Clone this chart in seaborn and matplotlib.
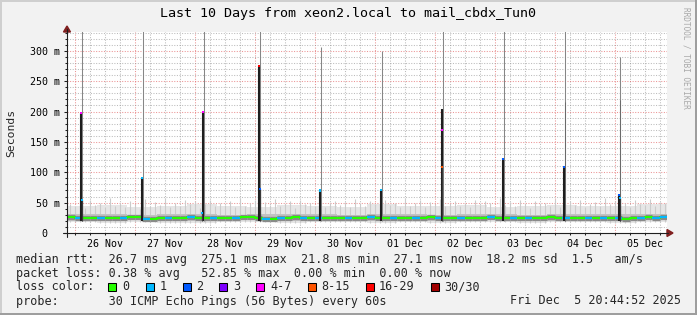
import matplotlib
matplotlib.use("Agg")
import matplotlib.pyplot as plt
import matplotlib.dates as mdates
from matplotlib.patches import Rectangle, Polygon
from matplotlib.lines import Line2D
import seaborn as sns
import pandas as pd
import numpy as np

# ---------------- data ----------------
start = "2025-11-25 20:44:52"
end = "2025-12-05 20:44:52"
title = "Last 10 Days from xeon2.local to mail_cbdx_Tun0"

# median rtt (ms), one value per 3 hours
median_ms = [
    25.8, 25.2, 24.6, 24.9, 25.3, 25.0, 24.7, 25.4,
    26.0, 25.6, 23.2, 23.8, 24.5, 25.1, 24.8, 25.3,
    25.9, 25.5, 24.4, 24.9, 25.2, 24.6, 25.0, 25.6,
    26.1, 24.8, 22.8, 23.4, 24.2, 24.9, 25.6, 25.1,
    24.7, 25.5, 24.6, 25.0, 25.4, 24.8, 24.5, 25.2,
    25.7, 25.1, 24.3, 24.8, 25.3, 25.0, 24.6, 25.5,
    26.2, 25.4, 23.9, 24.6, 25.1, 24.7, 25.3, 25.0,
    25.6, 25.2, 24.5, 24.1, 25.0, 25.5, 24.9, 25.2,
    25.8, 25.0, 24.2, 24.8, 25.4, 25.1, 24.7, 25.3,
    25.5, 24.6, 23.5, 24.4, 25.0, 25.6, 25.2, 25.8]
# lost pings (of 30), one value per 3 hours
loss_cnt = [
    0, 1, 0, 0, 1, 0, 0, 1,
    0, 0, 1, 0, 0, 1, 0, 0,
    1, 0, 0, 1, 0, 0, 1, 0,
    0, 0, 1, 0, 1, 0, 0, 1,
    0, 1, 0, 0, 0, 1, 0, 0,
    1, 0, 0, 1, 0, 0, 1, 0,
    0, 1, 0, 0, 1, 0, 0, 0,
    1, 0, 0, 1, 0, 1, 0, 0,
    0, 0, 1, 0, 0, 1, 0, 1,
    0, 1, 0, 0, 1, 0, 1, 1]
# highest ping (ms), one value per 2 hours
streak_ms = [
    48, 44, 52, 41, 55, 46, 50, 43, 57, 45, 49, 42,
    53, 47, 40, 56, 44, 51, 46, 58, 43, 49, 45, 54,
    47, 52, 41, 48, 55, 44, 50, 46, 53, 42, 57, 45,
    49, 54, 43, 51, 46, 56, 44, 48, 52, 41, 55, 47,
    50, 45, 58, 43, 49, 53, 46, 51, 42, 56, 47, 44,
    52, 48, 41, 55, 46, 50, 43, 57, 45, 49, 54, 42,
    51, 47, 56, 44, 48, 53, 45, 50, 42, 55, 46, 52,
    49, 43, 57, 46, 51, 44, 54, 48, 41, 53, 47, 50,
    45, 56, 43, 49, 52, 46, 55, 42, 48, 51, 44, 57,
    47, 53, 45, 50, 43, 54, 48, 46, 56, 44, 51, 49]
# smoke percentiles (ms), one value per 12 hours
band_lo = [17.5, 17.0, 18.0, 17.2, 16.8, 17.5, 17.8, 17.0, 17.4, 18.0,
           17.2, 17.6, 16.9, 17.5, 17.8, 17.1, 17.4, 17.9, 17.2, 17.6]
band_q1 = [20.5, 20.0, 21.0, 20.2, 19.8, 20.6, 20.8, 20.1, 20.4, 21.0,
           20.3, 20.7, 19.9, 20.5, 20.9, 20.2, 20.5, 20.9, 20.3, 20.6]
band_q3 = [30.5, 31.0, 30.2, 31.5, 30.8, 30.0, 31.2, 30.6, 31.4, 30.3,
           30.9, 31.6, 30.4, 31.1, 30.7, 30.2, 31.3, 30.8, 30.5, 31.0]
band_hi = [44, 46, 43, 45, 47, 44, 42, 46, 45, 43,
           47, 44, 45, 46, 43, 44, 46, 45, 44, 47]

# daily latency spikes
spike_time = ["2025-11-26 02:20", "2025-11-27 02:37", "2025-11-28 03:15",
              "2025-11-29 01:32", "2025-11-30 01:56", "2025-12-01 02:13",
              "2025-12-02 02:37", "2025-12-03 03:01", "2025-12-04 03:25",
              "2025-12-05 01:32"]
spike_dark = [198, 91, 199, 275, 70, 71, 204, 124, 109, 64]
spike_med = [198, 91, 199, 275, 70, 71, 170, 122, 109, 62]
spike_loss = [5, 1, 5, 16, 1, 1, 5, 2, 2, 2]
spike_mid = [0, 0, 0, 0, 0, 0, 0, 0, 216, 219]
spike_max = [400, 400, 400, 400, 307, 300, 400, 400, 400, 290]
after_time = ["2025-11-26 02:44", "2025-11-28 02:51", "2025-11-29 01:56",
              "2025-12-02 02:50", "2025-12-05 01:56"]
after_top = [55, 33, 72, 108, 58]
after_loss = [1, 1, 2, 8, 1]

y_ticks = [0, 50, 100, 150, 200, 250, 300]
y_labels = ["0  ", "50 m", "100 m", "150 m", "200 m", "250 m", "300 m"]

loss_keys = [0, 1, 2, 3, 4, 8, 16, 30]
loss_labels = ["0", "1", "2", "3", "4-7", "8-15", "16-29", "30/30"]
loss_colors = ["#26ff00", "#00b8ff", "#0059ff", "#7e00ff",
               "#ff00ff", "#ff5500", "#ff0000", "#a10000"]

row_rtt = "median rtt:  26.7 ms avg  275.1 ms max  21.8 ms min  27.1 ms now  18.2 ms sd  1.5   am/s"
row_loss = "packet loss: 0.38 % avg   52.85 % max  0.00 % min  0.00 % now"
row_color = "loss color:"
row_probe = "probe:       30 ICMP Echo Pings (56 Bytes) every 60s"
stamp = "Fri Dec  5 20:44:52 2025"
watermark = "RRDTOOL / TOBI OETIKER"


def loss_color(n):
    c = loss_colors[0]
    for k, col in zip(loss_keys, loss_colors):
        if n >= k:
            c = col
    return c


# ---------------- figure ----------------
sns.set_theme(style="white")
plt.rcParams['font.family'] = ['DejaVu Sans Mono', 'DejaVu Sans']

W, H = 697, 315
fig = plt.figure(figsize=(W / 100, H / 100), dpi=100)
fig.patch.set_facecolor('#f2f2f2')
ax = fig.add_axes([67 / W, 1 - 233 / H, 600 / W, 201 / H])
ax.set_facecolor('white')
for s in ax.spines.values():
    s.set_visible(False)

T0, T1 = pd.Timestamp(start), pd.Timestamp(end)
x0, x1 = mdates.date2num(T0), mdates.date2num(T1)
PX = 10.0 / 600  # one pixel in days

t3 = pd.date_range(T0, periods=len(median_ms), freq='3h')
t2 = pd.date_range(T0, periods=len(streak_ms), freq='2h')
t12 = pd.date_range(T0, periods=len(band_lo), freq='12h')
e3 = np.append(mdates.date2num(t3), x1)
e12 = np.append(mdates.date2num(t12), x1)


def ext(v):
    return np.append(v, v[-1])


# grid (behind)
gx = pd.date_range(T0.ceil('6h'), T1, freq='6h')
for g in gx:
    major = g.hour == 0
    ax.axvline(mdates.date2num(g), color=(0.87, 0.31, 0.31, 0.6) if major else (0.56, 0.56, 0.56, 0.6),
               lw=0.75, ls=(0, (1, 1.5)), zorder=0.5)
for v in range(10, 331, 10):
    major = v % 50 == 0
    ax.axhline(v, color=(0.87, 0.31, 0.31, 0.6) if major else (0.56, 0.56, 0.56, 0.6),
               lw=0.75, ls=(0, (1, 1.5)), zorder=0.5)

# smoke
ax.fill_between(e12, ext(band_lo), ext(band_hi), step='post', color='#e6e6e6', lw=0, zorder=1)
ax.vlines(mdates.date2num(t2) + 1 / 24, np.repeat(band_lo, 6), streak_ms,
          color='#cbcbcb', lw=0.8, zorder=1.2)
ax.fill_between(e12, ext(band_q1), ext(band_q3), step='post', color='#c2c2c2', lw=0, zorder=1.5)
ax.hlines(median_ms, e3[:-1], e3[1:], color='#8a8a8a', lw=3.8, zorder=1.8)

# median line
df = pd.DataFrame({"time": list(t3) + [T1], "rtt": median_ms + [median_ms[-1]]})
sns.lineplot(data=df, x="time", y="rtt", drawstyle='steps-post', color=loss_colors[0],
             lw=1.5, estimator=None, sort=False, ax=ax, zorder=6)
lossy = [i for i, n in enumerate(loss_cnt) if n > 0]
ax.hlines([median_ms[i] for i in lossy], e3[lossy], e3[np.array(lossy) + 1],
          colors=[loss_color(loss_cnt[i]) for i in lossy], lw=1.5, zorder=6.5)

# spikes
ts = mdates.date2num(pd.to_datetime(spike_time))
ax.vlines(ts + PX, 20, spike_max, color='#868686', lw=0.75, zorder=3)
mid_idx = [i for i, v in enumerate(spike_mid) if v > 0]
ax.vlines(ts[mid_idx] + PX, 20, [spike_mid[i] for i in mid_idx], color='#6a6a6a', lw=0.75, zorder=3.2)
ax.vlines(ts, 20, spike_dark, color='#1e1e1e', lw=1.5, zorder=7)
ta = mdates.date2num(pd.to_datetime(after_time))
ax.vlines(ta, 20, after_top, color='#3a3a3a', lw=0.9, zorder=7)
sdf = pd.DataFrame({"time": pd.to_datetime(spike_time + after_time),
                    "rtt": spike_med + after_top,
                    "loss": [loss_color(n) for n in spike_loss + after_loss]})
sns.scatterplot(data=sdf, x="time", y="rtt", hue="loss",
                palette={c: c for c in loss_colors}, marker='s', s=2.2,
                linewidth=0, legend=False, ax=ax, zorder=8)

ax.set_xlim(x0, x1)
ax.set_ylim(0, 331)
ax.set_xlabel("")
ax.set_ylabel("")

# ticks
ax.set_yticks(y_ticks)
ax.set_yticklabels(y_labels)
ax.set_yticks(range(10, 331, 10), minor=True)
noon = pd.date_range(T0.ceil('D') + pd.Timedelta(hours=12), T1, freq='D')
ax.set_xticks(mdates.date2num(noon))
ax.set_xticklabels([d.strftime("%d %b") for d in noon])
ax.set_xticks(mdates.date2num(gx), minor=True)
ax.xaxis.remove_overlapping_locs = False
ax.tick_params(axis='y', which='major', length=2.5, width=0.75, color='#1f1f1f',
               labelsize=7.2, pad=2.5, labelcolor='black', left=True, direction='out')
ax.tick_params(axis='y', which='minor', length=1.6, width=0.75, color='#1f1f1f', left=True,
               direction='out')
ax.tick_params(axis='x', which='major', length=0, labelsize=7.2, pad=4, labelcolor='black',
               bottom=True)
ax.tick_params(axis='x', which='minor', length=1.6, width=0.75, color='#1f1f1f', bottom=True,
               direction='out')


# ---------------- figure decorations (pixel helpers) ----------------
def P(x, y):
    return (x / W, 1 - y / H)


def fline(xs, ys, color, lw):
    fig.add_artist(Line2D([x / W for x in xs], [1 - y / H for y in ys],
                          transform=fig.transFigure, color=color, lw=lw))


# axes lines + arrows
fline([63, 668], [233, 233], '#1f1f1f', 0.8)
fline([67, 67], [237, 29], '#1f1f1f', 0.8)
fig.add_artist(Polygon([P(667, 229.5), P(673, 233), P(667, 236.5)], closed=True,
                       transform=fig.transFigure, color='#801f1f'))
fig.add_artist(Polygon([P(63.5, 32), P(67, 26), P(70.5, 32)], closed=True,
                       transform=fig.transFigure, color='#801f1f'))

# frame shading
fig.add_artist(Rectangle((0, 0), 2 / W, 1, transform=fig.transFigure, color='#cfcfcf', lw=0))
fig.add_artist(Rectangle((0, 1 - 2 / H), 1, 2 / H, transform=fig.transFigure, color='#cfcfcf', lw=0))
fig.add_artist(Rectangle((1 - 2 / W, 0), 2 / W, 1, transform=fig.transFigure, color='#9e9e9e', lw=0))
fig.add_artist(Rectangle((0, 0), 1, 2 / H, transform=fig.transFigure, color='#9e9e9e', lw=0))

# texts
fig.text(*P(348, 13), title, ha='center', va='center', fontsize=9.6, color='black')
fig.text(*P(11, 133), "Seconds", ha='center', va='center', rotation=90, fontsize=8.2)
fig.text(*P(686, 58), watermark, ha='center', va='center', rotation=270, fontsize=5.6,
         color='#a8a8a8')

LF = 8.5
fig.text(*P(16, 259), row_rtt, ha='left', va='center', fontsize=LF)
fig.text(*P(16, 273), row_loss, ha='left', va='center', fontsize=LF)
fig.text(*P(16, 287), row_color, ha='left', va='center', fontsize=LF)
fig.text(*P(16, 301), row_probe, ha='left', va='center', fontsize=LF)
fig.text(*P(681, 301), stamp, ha='right', va='center', fontsize=LF)

box_x = [108, 146, 183, 219, 256, 308, 366, 431]
lab_x = [122, 160, 196, 233, 270, 321, 379, 444]
for bx, lx, lab, col in zip(box_x, lab_x, loss_labels, loss_colors):
    fig.add_artist(Rectangle(P(bx, 291), 8 / W, 8 / H, transform=fig.transFigure,
                             facecolor=col, edgecolor='black', lw=0.75))
    fig.text(*P(lx, 287), lab, ha='left', va='center', fontsize=LF)

fig.savefig("out.png", dpi=100, facecolor=fig.get_facecolor())
